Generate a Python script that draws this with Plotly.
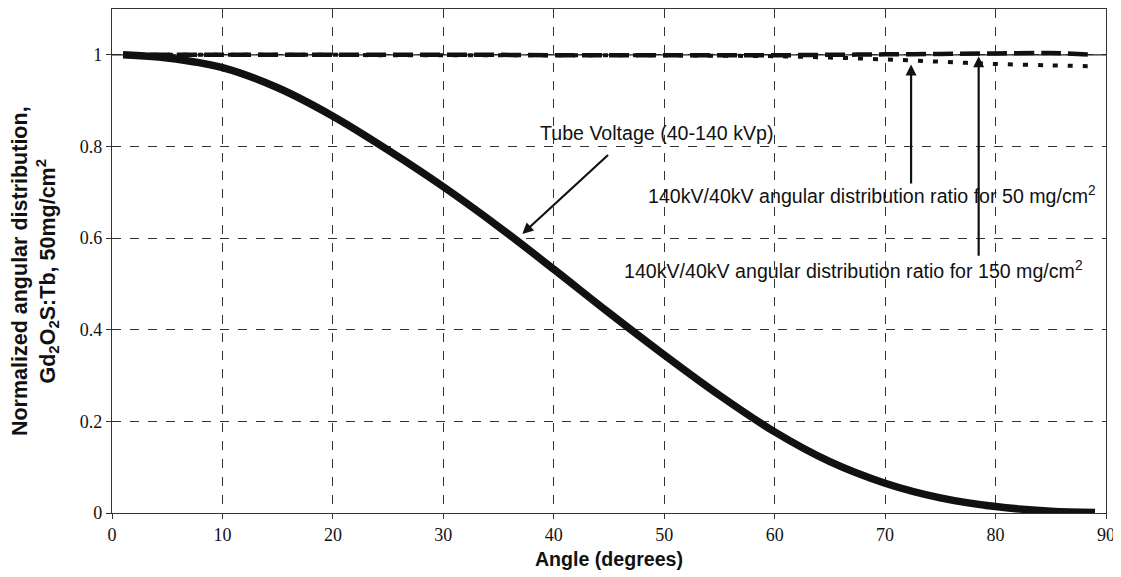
import plotly.graph_objects as go

# Main normalized angular distribution curve
angles = [1, 5, 10, 15, 20, 25, 30, 35, 40, 45, 50, 55, 60, 65, 70, 75, 80, 85, 89]
norm_dist = [1.0, 0.993, 0.972, 0.928, 0.866, 0.792, 0.712, 0.625, 0.532, 0.437,
             0.345, 0.257, 0.177, 0.112, 0.065, 0.033, 0.014, 0.004, 0.001]

# 140kV/40kV ratio curves
ratio_50 = [1.0, 1.0, 1.0, 1.0, 1.0, 1.0, 1.0, 1.0, 0.999, 0.999,
            0.999, 0.999, 0.999, 1.0, 1.001, 1.002, 1.003, 1.004, 1.0]
ratio_150 = [1.0, 1.0, 1.0, 1.0, 1.0, 0.999, 0.999, 0.999, 0.999, 0.999,
             0.999, 0.998, 0.997, 0.994, 0.99, 0.985, 0.98, 0.977, 0.975]
unity_x = [0, 90]
unity_y = [1, 1]

x_ticks = [0, 10, 20, 30, 40, 50, 60, 70, 80, 90]
y_ticks = [0, 0.2, 0.4, 0.6, 0.8, 1]
y_tick_text = ["0", "0.2", "0.4", "0.6", "0.8", "1"]

fig = go.Figure()
fig.add_trace(go.Scatter(x=unity_x, y=unity_y, mode="lines",
                         line=dict(color="#222", width=1.2), showlegend=False))
fig.add_trace(go.Scatter(x=angles, y=ratio_150, mode="lines", line_shape="spline",
                         line=dict(color="#111", width=4, dash="5px,10px"), showlegend=False))
fig.add_trace(go.Scatter(x=angles, y=ratio_50, mode="lines", line_shape="spline",
                         line=dict(color="#111", width=4.5, dash="20px,7px"), showlegend=False))
fig.add_trace(go.Scatter(x=angles, y=norm_dist, mode="lines", line_shape="spline",
                         line=dict(color="#111", width=7.5), showlegend=False))

ann_font = dict(family="Liberation Sans, Arial, sans-serif", size=19.6, color="#111")
arrow_common = dict(xref="x", yref="y", axref="x", ayref="y", showarrow=True,
                    arrowhead=2, arrowsize=1, arrowwidth=2.2, arrowcolor="#111", text="")
fig.add_annotation(x=37.15, y=0.609, ax=45.05, ay=0.7845, **arrow_common)
fig.add_annotation(x=72.35, y=0.979, ax=72.35, ay=0.716, **arrow_common)
fig.add_annotation(x=78.47, y=0.997, ax=78.47, ay=0.558, **arrow_common)

fig.add_annotation(x=49.3, y=0.83, xref="x", yref="y", showarrow=False,
                   text="Tube Voltage (40-140 kVp)", font=ann_font)
fig.add_annotation(x=68.8, y=0.695, xref="x", yref="y", showarrow=False,
                   text="140kV/40kV angular distribution ratio for 50 mg/cm<sup>2</sup>", font=ann_font)
fig.add_annotation(x=67.1, y=0.53, xref="x", yref="y", showarrow=False,
                   text="140kV/40kV angular distribution ratio for 150 mg/cm<sup>2</sup>", font=ann_font)

# y-axis title as a rotated annotation
fig.add_annotation(x=0, y=0.48, xref="paper", yref="paper", xanchor="center", yanchor="middle",
                   xshift=-77, textangle=-90, showarrow=False,
                   text="<b>Normalized angular distribution,<br>Gd<sub>2</sub>O<sub>2</sub>S:Tb, 50mg/cm<sup>2</sup></b>",
                   font=dict(family="Liberation Sans, Arial, sans-serif", size=21.5, color="#111"))

tick_font = dict(family="Liberation Serif, Times New Roman, serif", size=18, color="#111")
title_font = dict(family="Liberation Sans, Arial, sans-serif", size=19.6, color="#111")

fig.update_xaxes(range=[0, 90], tickvals=x_ticks, ticks="outside", ticklen=5, tickcolor="#333",
                 showline=True, linecolor="#333", linewidth=1.2, mirror=True,
                 showgrid=True, gridcolor="#333", gridwidth=1, griddash="dash",
                 zeroline=False, tickfont=tick_font, automargin=False,
                 title=dict(text="<b>Angle (degrees)</b>", font=title_font, standoff=8))
fig.update_yaxes(range=[0, 1.1], tickvals=y_ticks, ticktext=y_tick_text, ticks="outside",
                 ticklen=5, tickcolor="#333",
                 showline=True, linecolor="#333", linewidth=1.2, mirror=True,
                 showgrid=True, gridcolor="#333", gridwidth=1, griddash="dash",
                 zeroline=False, tickfont=tick_font, automargin=False)

# page body adds an 8px offset, so the figure is 8px smaller than the window
fig.update_layout(width=1113, height=569, plot_bgcolor="white", paper_bgcolor="white",
                  margin=dict(l=104, r=15, t=1, b=64), showlegend=False)

fig.write_html("out.html")
